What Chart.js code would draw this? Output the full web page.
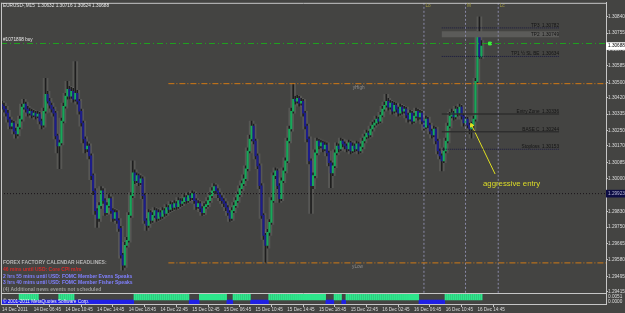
<!DOCTYPE html>
<html><head><meta charset="utf-8">
<script src="https://cdn.jsdelivr.net/npm/chart.js@4.4.1/dist/chart.umd.min.js"></script>
<style>html,body{margin:0;padding:0;background:#444442;overflow:hidden}</style>
</head><body>
<canvas id="c" width="625" height="313"></canvas>
<script>
// ---------- DATA (EURUSD M15, 14 Dec 2011 02:45 -> 16 Dec 2011 15:15) ----------
const firstOpen = 1.30385;
const closes = [
1.30376,1.30361,1.30340,1.30309,1.30273,1.30289,1.30247,1.30232,1.30268,1.30309,
1.30371,1.30387,1.30361,1.30340,1.30350,1.30330,1.30340,1.30325,1.30335,1.30299,
1.30278,1.30350,1.30438,1.30402,1.30381,1.30361,1.30340,1.30222,1.30170,1.30186,
1.30299,1.30376,1.30428,1.30464,1.30428,1.30453,1.30412,1.30443,1.30402,1.30350,
1.30289,1.30206,1.30155,1.30170,1.30119,1.30016,1.29938,1.29835,1.29794,1.29861,
1.29938,1.29887,1.29825,1.29861,1.29897,1.29835,1.29794,1.29825,1.29784,1.29743,
1.29604,1.29552,1.29655,1.29681,1.29810,1.29913,1.30031,1.29990,1.30016,1.29980,
1.30000,1.29913,1.29784,1.29758,1.29825,1.29784,1.29810,1.29835,1.29794,1.29825,
1.29805,1.29835,1.29820,1.29851,1.29841,1.29866,1.29851,1.29872,1.29856,1.29887,
1.29872,1.29882,1.29902,1.29887,1.29913,1.29902,1.29923,1.29887,1.29856,1.29872,
1.29846,1.29825,1.29856,1.29866,1.29887,1.29913,1.29938,1.29959,1.29938,1.29918,
1.29902,1.29887,1.29872,1.29851,1.29825,1.29794,1.29835,1.29861,1.29887,1.29918,
1.29949,1.29975,1.30000,1.30052,1.30144,1.30206,1.30273,1.30196,1.30119,1.30067,
1.29964,1.29810,1.29707,1.29655,1.29722,1.29774,1.29887,1.30016,1.30041,1.29964,
1.29897,1.29990,1.30041,1.30093,1.30196,1.30258,1.30350,1.30412,1.30402,1.30417,
1.30392,1.30402,1.30340,1.30273,1.30206,1.30093,1.29964,1.30016,1.30134,1.30196,
1.30170,1.30186,1.30155,1.30175,1.30134,1.30083,1.30031,1.30067,1.30134,1.30170,
1.30155,1.30196,1.30181,1.30170,1.30155,1.30186,1.30144,1.30170,1.30155,1.30181,
1.30144,1.30165,1.30196,1.30217,1.30237,1.30227,1.30258,1.30278,1.30289,1.30309,
1.30299,1.30330,1.30361,1.30381,1.30402,1.30371,1.30392,1.30350,1.30381,1.30361,
1.30340,1.30371,1.30350,1.30361,1.30330,1.30309,1.30340,1.30299,1.30325,1.30350,
1.30320,1.30340,1.30299,1.30268,1.30309,1.30278,1.30247,1.30227,1.30258,1.30196,
1.30144,1.30119,1.30093,1.30144,1.30196,1.30273,1.30325,1.30340,1.30320,1.30361,
1.30340,1.30371,1.30325,1.30289,1.30309,1.30278,1.30258,1.30278,1.30309,1.30505,
1.30747,1.30632,1.30688];
const highs = [
1.30402,1.30392,1.30376,1.30355,1.30320,1.30304,1.30299,1.30263,1.30284,1.30325,
1.30387,1.30412,1.30397,1.30376,1.30366,1.30361,1.30355,1.30350,1.30350,1.30345,
1.30309,1.30366,1.30520,1.30453,1.30417,1.30392,1.30371,1.30350,1.30232,1.30201,
1.30315,1.30392,1.30443,1.30505,1.30479,1.30474,1.30469,1.30608,1.30459,1.30412,
1.30361,1.30299,1.30217,1.30191,1.30181,1.30129,1.30026,1.29949,1.29846,1.29877,
1.29959,1.29949,1.29897,1.29877,1.29918,1.29907,1.29846,1.29841,1.29835,1.29794,
1.29753,1.29614,1.29671,1.29697,1.29825,1.29928,1.30093,1.30047,1.30031,1.30026,
1.30016,1.30010,1.29923,1.29794,1.29841,1.29835,1.29825,1.29851,1.29846,1.29841,
1.29835,1.29851,1.29846,1.29866,1.29861,1.29882,1.29877,1.29887,1.29882,1.29902,
1.29897,1.29897,1.29918,1.29913,1.29928,1.29923,1.29938,1.29933,1.29897,1.29887,
1.29882,1.29856,1.29872,1.29882,1.29902,1.29928,1.29954,1.29975,1.29969,1.29949,
1.29928,1.29913,1.29897,1.29882,1.29861,1.29835,1.29851,1.29877,1.29902,1.29933,
1.29964,1.29990,1.30021,1.30067,1.30160,1.30227,1.30299,1.30284,1.30206,1.30129,
1.30077,1.29975,1.29820,1.29717,1.29738,1.29789,1.29902,1.30031,1.30057,1.30052,
1.29975,1.30005,1.30057,1.30108,1.30211,1.30273,1.30366,1.30493,1.30428,1.30433,
1.30428,1.30417,1.30412,1.30350,1.30284,1.30217,1.30103,1.30031,1.30150,1.30211,
1.30206,1.30201,1.30196,1.30191,1.30186,1.30144,1.30093,1.30083,1.30150,1.30186,
1.30181,1.30211,1.30206,1.30191,1.30181,1.30201,1.30196,1.30186,1.30181,1.30196,
1.30191,1.30181,1.30211,1.30232,1.30252,1.30247,1.30273,1.30294,1.30304,1.30325,
1.30320,1.30345,1.30376,1.30397,1.30438,1.30417,1.30407,1.30402,1.30397,1.30392,
1.30371,1.30387,1.30381,1.30376,1.30371,1.30340,1.30355,1.30350,1.30340,1.30366,
1.30361,1.30355,1.30350,1.30309,1.30325,1.30320,1.30289,1.30258,1.30273,1.30268,
1.30206,1.30155,1.30129,1.30160,1.30211,1.30289,1.30345,1.30361,1.30350,1.30376,
1.30371,1.30387,1.30381,1.30335,1.30325,1.30320,1.30289,1.30294,1.30325,1.30520,
1.30762,1.30840,1.30716];
const lows = [
1.30361,1.30345,1.30325,1.30294,1.30258,1.30258,1.30232,1.30211,1.30222,1.30258,
1.30299,1.30361,1.30345,1.30325,1.30330,1.30315,1.30320,1.30309,1.30315,1.30284,
1.30258,1.30268,1.30340,1.30392,1.30366,1.30345,1.30325,1.30206,1.30134,1.30052,
1.30175,1.30289,1.30366,1.30412,1.30412,1.30417,1.30397,1.30402,1.30387,1.30335,
1.30273,1.30186,1.30134,1.30139,1.30103,1.29995,1.29918,1.29815,1.29748,1.29779,
1.29846,1.29872,1.29810,1.29815,1.29851,1.29820,1.29779,1.29784,1.29768,1.29727,
1.29588,1.29526,1.29541,1.29645,1.29671,1.29800,1.29902,1.29975,1.29980,1.29964,
1.29969,1.29897,1.29768,1.29733,1.29748,1.29768,1.29774,1.29800,1.29779,1.29784,
1.29789,1.29794,1.29805,1.29810,1.29825,1.29830,1.29835,1.29841,1.29841,1.29846,
1.29856,1.29861,1.29872,1.29872,1.29877,1.29887,1.29892,1.29872,1.29841,1.29846,
1.29830,1.29810,1.29815,1.29846,1.29856,1.29877,1.29902,1.29928,1.29923,1.29902,
1.29887,1.29872,1.29856,1.29835,1.29810,1.29779,1.29784,1.29825,1.29851,1.29877,
1.29907,1.29938,1.29964,1.29990,1.30041,1.30134,1.30196,1.30181,1.30103,1.30052,
1.29949,1.29794,1.29686,1.29564,1.29640,1.29707,1.29764,1.29877,1.30000,1.29949,
1.29877,1.29887,1.29980,1.30031,1.30083,1.30186,1.30247,1.30340,1.30387,1.30392,
1.30376,1.30381,1.30325,1.30258,1.30191,1.30077,1.29820,1.29949,1.30005,1.30124,
1.30155,1.30160,1.30139,1.30144,1.30119,1.30067,1.29954,1.30016,1.30057,1.30124,
1.30139,1.30144,1.30165,1.30155,1.30139,1.30144,1.30129,1.30134,1.30139,1.30144,
1.30129,1.30134,1.30155,1.30186,1.30206,1.30211,1.30217,1.30247,1.30268,1.30278,
1.30284,1.30289,1.30320,1.30350,1.30371,1.30355,1.30361,1.30335,1.30340,1.30345,
1.30325,1.30330,1.30335,1.30340,1.30315,1.30294,1.30299,1.30284,1.30289,1.30315,
1.30304,1.30309,1.30284,1.30252,1.30258,1.30263,1.30232,1.30211,1.30217,1.30181,
1.30129,1.30103,1.30041,1.30083,1.30134,1.30186,1.30263,1.30315,1.30304,1.30309,
1.30325,1.30330,1.30309,1.30273,1.30278,1.30263,1.30232,1.30211,1.30247,1.30299,
1.30495,1.30624,1.30624];
// each M15 open = previous bar's close (first one read directly)
const opens = closes.map((c, i) => i === 0 ? firstOpen : closes[i - 1]);

// trend-bar sub window: runs of bars [firstBar, lastBar]
const upRuns = [[9,18],[29,36],[67,94],[100,113],[117,125],[135,163],[168,171],[174,210],[224,242]];
const downRuns = [[0,66],[95,99],[114,116],[126,134],[164,167],[172,173],[211,223]];

// time axis
const timeLabels = ['14 Dec 2011','14 Dec 06:45','14 Dec 10:45','14 Dec 14:45','14 Dec 18:45','14 Dec 22:45',
 '15 Dec 02:45','15 Dec 06:45','15 Dec 10:45','15 Dec 14:45','15 Dec 18:45','15 Dec 22:45',
 '16 Dec 02:45','16 Dec 06:45','16 Dec 10:45','16 Dec 14:45'];
const timeLabelBars = [0,16,32,48,64,80,96,112,128,144,160,176,192,208,224,240];

// price axis
const priceTicks = [1.30840,1.30755,1.30670,1.30585,1.30500,1.30420,1.30335,1.30250,1.30170,1.30085,
 1.30000,1.29915,1.29830,1.29750,1.29665,1.29580,1.29495,1.29415];
const bidPrice = 1.30688;
const markLinePrice = 1.29923;

// levels
const yHigh = 1.30493, yLow = 1.29564;
const orderPrice = 1.30701;
const tradeLevelNames = ['TP3','TP2','TP1 \u00bd SL BE','Entry Zone','BASE C','Stoploss'];
const tradeLevelPrices = [1.30782,1.30749,1.30634,1.30336,1.30244,1.30153];
const sessionNames = ['Lo','M','Lc'];
const sessionBars = [213, 234, 250.5];

const newsLines = ['FOREX FACTORY CALENDAR HEADLINES:','46 mins until USD: Core CPI m/m',
 '2 hrs 55 mins until USD: FOMC Member Evans Speaks','3 hrs 40 mins until USD: FOMC Member Fisher Speaks',
 '(4) Additional news events not scheduled'];

// ---------- CHART ----------
const FONT = "'Liberation Sans', Arial, sans-serif";
const BG = '#444442';
const priceMin = 1.29351, priceMax = 1.30912;
const xMin = -0.5, xMax = 304.9;
const levelStart = 222, levelEnd = 281.2, dayStart = 84;
const sepValue = 11; // indicator window height (px units on yi)

const idx = closes.map((c, i) => i);
const wickData = idx.map(i => ({x: i, y: [lows[i], highs[i]]}));
const bodyData = idx.map(i => ({x: i, y: [opens[i], closes[i]]}));
function runData(runs, lo, hi) {
  const d = [];
  runs.forEach(([a, b]) => { for (let i = a; i <= b; i++) d.push({x: i, y: [lo, hi]}); });
  return d;
}
function hLine(price, x0, x1, color, dash, width, order) {
  return {type: 'line', data: [{x: x0, y: price}, {x: x1, y: price}], borderColor: color,
    borderDash: dash || [], borderWidth: width || 1, pointRadius: 0, order: order || 1,
    xAxisID: 'x', yAxisID: 'y', tension: 0};
}
const datasets = [
  {type: 'bar', data: wickData, backgroundColor: 'rgba(128,128,124,0.32)', barThickness: 5, grouped: false, order: 9},
  {type: 'bar', data: wickData, backgroundColor: '#1e1e1e', barThickness: 1, grouped: false, order: 8},
  {type: 'bar', data: bodyData, grouped: false, order: 7, barThickness: 1.5,
    backgroundColor: ctx => closes[ctx.dataIndex] >= opens[ctx.dataIndex] ? '#17a85a' : '#1d1d8a'},
  {type: 'bar', data: runData(upRuns, 4, 10), yAxisID: 'yi', backgroundColor: '#2ee68c', barThickness: 1.5, grouped: false, order: 6},
  {type: 'bar', data: runData(downRuns, 0, 4), yAxisID: 'yi', backgroundColor: '#2020e6', barThickness: 2, grouped: false, order: 6},
  hLine(yHigh, dayStart, xMax, '#d27a14', [6, 2, 1, 2]),
  hLine(yLow, dayStart, xMax, '#d27a14', [6, 2, 1, 2]),
  hLine(orderPrice, xMin, xMax, '#1fa21f', [6, 3, 1, 3]),
  hLine(markLinePrice, xMin, xMax, '#1a1418', [1, 2]),
  hLine(tradeLevelPrices[0], levelStart, levelEnd, '#1a1a40', [1, 1]),
  hLine(tradeLevelPrices[1], levelStart, levelEnd, '#5b5b59', [], 6, 4),
  hLine(tradeLevelPrices[2], levelStart, levelEnd, '#1a1a40', [1, 1]),
  hLine(tradeLevelPrices[3], levelStart, levelEnd, '#2e2e2e', [], 1.5),
  hLine(tradeLevelPrices[4], levelStart, levelEnd, '#2e2e2e', [], 1.5),
  hLine(tradeLevelPrices[5], levelStart, levelEnd, '#1a1a40', [1, 1]),
  ...sessionBars.map(b => ({type: 'line', data: [{x: b, y: priceMax}, {x: b, y: 1.29408}], borderColor: '#8a8aa8',
    borderDash: [2, 2], borderWidth: 1, pointRadius: 0, order: 2})),
  {type: 'line', data: [{x: 248.9, y: 1.30025}, {x: 237.1, y: 1.30277}], borderColor: '#e0e020', borderWidth: 1,
    pointRadius: [0, 2.2], pointStyle: 'triangle', rotation: -25, pointBackgroundColor: '#e0e020',
    pointBorderColor: '#e0e020', order: 1},
  {type: 'line', data: [{x: 246.3, y: orderPrice}], showLine: false, pointStyle: 'rect', pointRadius: 2,
    pointBackgroundColor: '#3cf03c', pointBorderColor: '#3cf03c', order: 1}
];

const decor = {
  id: 'decor',
  beforeDraw(chart) {
    const c = chart.ctx; c.save(); c.fillStyle = BG; c.fillRect(0, 0, chart.width, chart.height); c.restore();
  },
  afterDraw(chart) {
    const c = chart.ctx, a = chart.chartArea, xs = chart.scales.x, ys = chart.scales.y, yi = chart.scales.yi;
    c.save();
    c.strokeStyle = '#c6c6c6'; c.lineWidth = 1;
    const sep = Math.round(yi.getPixelForValue(sepValue)) + 0.5;
    c.beginPath();
    c.moveTo(a.left + 0.5, a.top); c.lineTo(a.left + 0.5, a.bottom);
    c.moveTo(a.left, a.top + 0.5); c.lineTo(a.right, a.top + 0.5);
    c.moveTo(a.left, sep); c.lineTo(a.right, sep);
    c.stroke();
    c.textBaseline = 'middle'; c.textAlign = 'left';
    c.font = '4.7px ' + FONT; c.fillStyle = '#e8e8e8';
    c.fillText('EURUSD-,M15  1.30632 1.30716 1.30624 1.30688', 3, 5.5);
    c.fillText('#1071898 buy', 3, ys.getPixelForValue(orderPrice) - 3.5);
    c.fillStyle = '#a29a42';
    sessionNames.forEach((n, k) => c.fillText(n, xs.getPixelForValue(sessionBars[k]) + 1.5, 6));
    c.fillStyle = '#8e8e8e';
    c.fillText('yHigh', xs.getPixelForValue(177), ys.getPixelForValue(yHigh) + 4);
    c.fillText('yLow', xs.getPixelForValue(176.7), ys.getPixelForValue(yLow) + 4);
    c.textAlign = 'right'; c.fillStyle = '#141414';
    tradeLevelNames.forEach((n, k) => {
      const off = k === 1 ? 0 : -2.5;
      c.fillText(n + '  ' + tradeLevelPrices[k].toFixed(5), xs.getPixelForValue(levelEnd), ys.getPixelForValue(tradeLevelPrices[k]) + off);
    });
    c.textAlign = 'left';
    c.font = '7.8px ' + FONT; c.fillStyle = '#dcdc28';
    c.fillText('aggressive entry', xs.getPixelForValue(242.8), ys.getPixelForValue(1.29975));
    c.font = 'bold 5px ' + FONT;
    const newsColors = ['#b4b4b4', '#d42a2a', '#8080ff', '#8080ff', '#9a9a9a'];
    newsLines.forEach((t, k) => { c.fillStyle = newsColors[k]; c.fillText(t, 3, 262.7 + k * 6.8); });
    c.font = '4.7px ' + FONT; c.fillStyle = '#f0f0f0';
    c.fillText('\u00a9 2001-2011 MetaQuotes Software Corp.', 3, 301.5);
    c.fillStyle = '#dcdcdc';
    c.fillText('0.0051', a.right + 2, 297);
    c.fillText('0.0000', a.right + 2, 302);
    c.restore();
  }
};

new Chart(document.getElementById('c'), {
  type: 'bar',
  data: {datasets},
  options: {
    responsive: false, animation: false, devicePixelRatio: 1, events: [],
    layout: {autoPadding: false, padding: {left: 1, top: 1, right: 0, bottom: 0}},
    plugins: {legend: {display: false}, tooltip: {enabled: false}},
    scales: {
      x: {
        type: 'linear', min: xMin, max: xMax, offset: false,
        afterBuildTicks: s => { s.ticks = timeLabelBars.map(v => ({value: v})); },
        afterFit: s => { s.height = 9; },
        grid: {drawOnChartArea: false, drawTicks: true, tickLength: 3, color: '#c6c6c6'},
        border: {display: true, color: '#c6c6c6'},
        ticks: {autoSkip: false, maxRotation: 0, minRotation: 0, align: 'start', padding: 0,
          font: {family: FONT, size: 4.6}, color: '#dadada',
          callback: v => timeLabels[timeLabelBars.indexOf(v)] || ''}
      },
      y: {
        type: 'linear', position: 'right', min: priceMin, max: priceMax,
        afterBuildTicks: s => { s.ticks = priceTicks.concat([markLinePrice, bidPrice]).map(v => ({value: v})); },
        afterFit: s => { s.width = 19; },
        grid: {drawOnChartArea: false, drawTicks: true, tickLength: 2, color: '#c6c6c6'},
        border: {display: true, color: '#c6c6c6'},
        ticks: {autoSkip: false, padding: 0, font: {family: FONT, size: 4.7},
          callback: v => v.toFixed(5),
          color: ctx => ctx.tick && ctx.tick.value === bidPrice ? '#000000' : (ctx.tick && ctx.tick.value === markLinePrice ? '#b8b8d8' : '#dcdcdc'),
          showLabelBackdrop: ctx => !!ctx.tick && (ctx.tick.value === bidPrice || ctx.tick.value === markLinePrice),
          backdropColor: ctx => ctx.tick && ctx.tick.value === bidPrice ? '#ffffff' : '#0c0c44',
          backdropPadding: {top: 1, bottom: 1, left: 2, right: 4}}
      },
      yi: {type: 'linear', display: false, min: 0, max: 303}
    }
  },
  plugins: [decor]
});
</script>
</body></html>
